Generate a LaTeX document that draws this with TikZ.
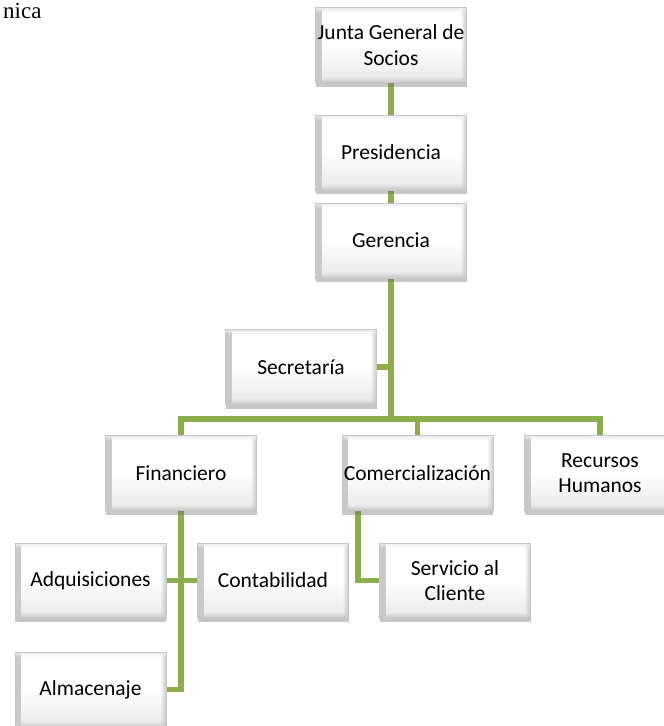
\documentclass[tikz,border=0pt]{standalone}
\usepackage{fontspec}
\setmainfont{Carlito}
\newfontfamily\bodyserif{Liberation Serif}
\usetikzlibrary{shadows,backgrounds,fadings}
\definecolor{linkgreen}{HTML}{8BAD4C}
\tikzset{
  unit/.style={
    rectangle, minimum width=151pt, minimum height=75pt, inner sep=0pt,
    align=center, font=\fontsize{21.5}{25.5}\selectfont,
    top color=white, bottom color=gray!18, middle color=white,
    draw=gray!45, line width=0.5pt,
    drop shadow={shadow xshift=0pt, shadow yshift=-4pt, opacity=0.4, fill=black!55},
    path picture={
      % bevelled edges
      \fill[gray!42, path fading=east]
        (path picture bounding box.north west) rectangle ([xshift=6pt]path picture bounding box.south west);
      \fill[gray!42, path fading=west]
        ([xshift=-6pt]path picture bounding box.north east) rectangle (path picture bounding box.south east);
      \fill[gray!42, path fading=north]
        ([yshift=6pt]path picture bounding box.south west) rectangle (path picture bounding box.south east);
      \fill[gray!15, path fading=south]
        (path picture bounding box.north west) rectangle ([yshift=-5pt]path picture bounding box.north east);
    }
  },
  link/.style={draw=linkgreen, line width=5.5pt, line join=miter}
}
\begin{document}
\begin{tikzpicture}[x=1pt, y=-1pt]
  \useasboundingbox (0,0) rectangle (664,726);
  \clip (0,0) rectangle (664,726);

  % fragment of the running text above the chart
  \node[anchor=base west, inner sep=0pt, font=\bodyserif\fontsize{23}{27}\selectfont] (txt) at (3,18) {nica};

  % chart units
  \node[unit] (junta) at (391,45)    {Junta General de\\Socios};
  \node[unit] (pres)  at (391,152.5) {Presidencia};
  \node[unit] (ger)   at (391,240.5) {Gerencia};
  \node[unit] (sec)   at (301,367)   {Secretaría};
  \node[unit] (fin)   at (181,473)   {Financiero};
  \node[unit] (com)   at (417.5,473) {Comercialización};
  \node[unit] (rh)    at (600,473)   {Recursos\\Humanos};
  \node[unit] (adq)   at (90.5,580.5){Adquisiciones};
  \node[unit] (cont)  at (273,580.5) {Contabilidad};
  \node[unit] (serv)  at (455,580.5) {Servicio al\\Cliente};
  \node[unit] (alm)   at (90.5,689.5){Almacenaje};

  \coordinate (bar) at (0,419);

  % connectors
  \begin{scope}[on background layer]
    \draw[link] (junta.south) -- (pres.north);
    \draw[link] (pres.south) -- (ger.north);
    \draw[link] (ger.south) -- (ger.south |- bar);
    \draw[link] (sec.east) -- (sec.east -| ger.south);
    \draw[link] (fin.north) -- (fin.north |- bar) -- (rh.north |- bar) -- (rh.north);
    \draw[link] (com.north) -- (com.north |- bar);
    \draw[link] (fin.south) |- (alm.east);
    \draw[link] (adq.east) -- (cont.west);
    \draw[link] ([xshift=-59.5pt]com.south) |- (serv.west);
  \end{scope}
\end{tikzpicture}
\end{document}
